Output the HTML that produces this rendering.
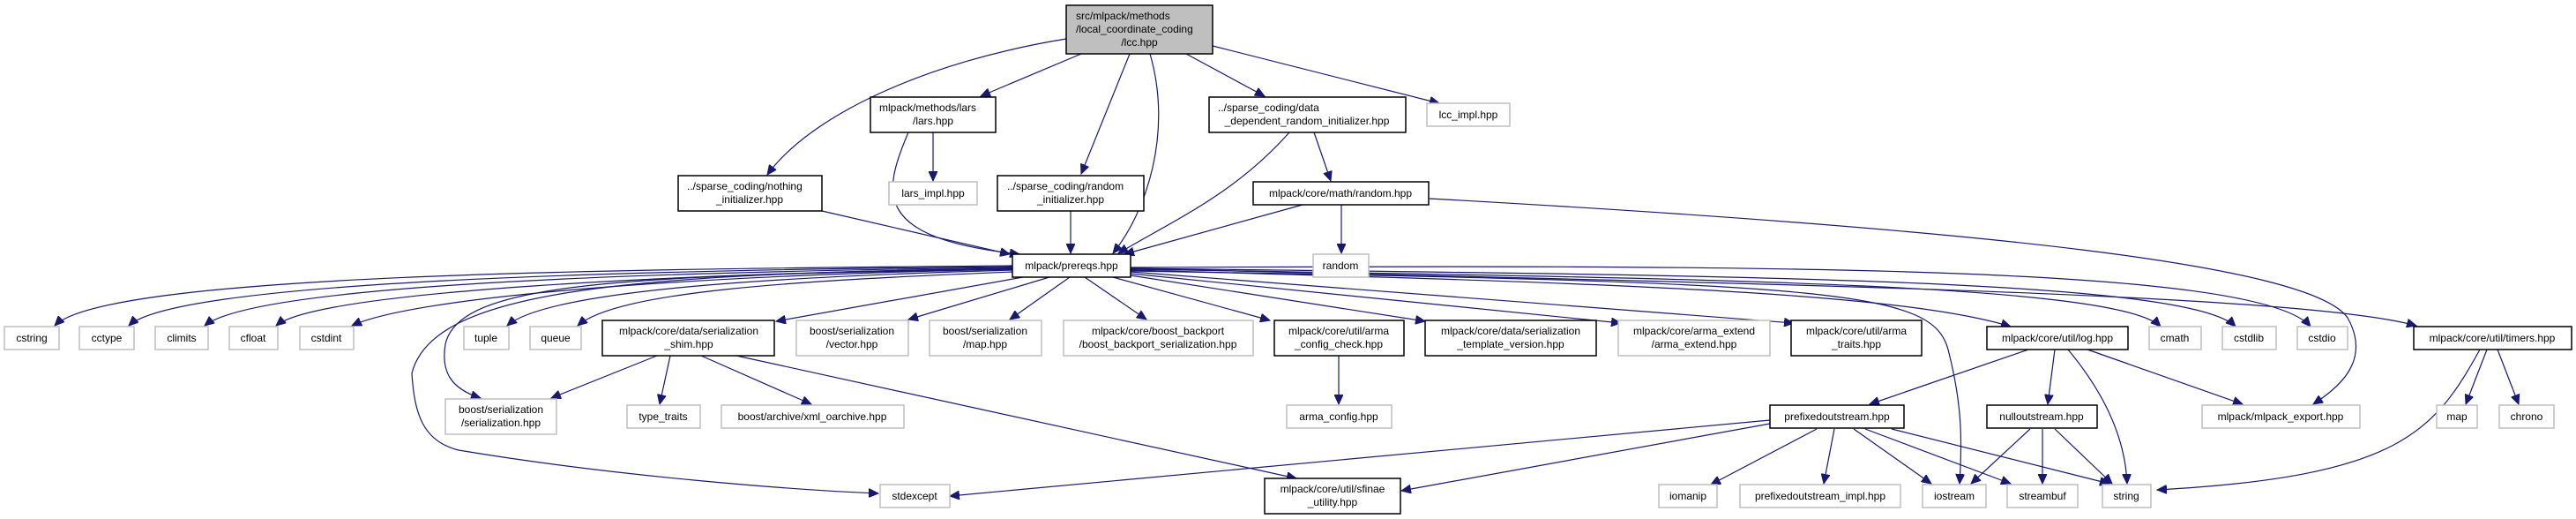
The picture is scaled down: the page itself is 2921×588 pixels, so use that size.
<!DOCTYPE html>
<html><head><meta charset="utf-8"><style>
html,body{margin:0;padding:0;background:#fff;}
svg{display:block;}
text{font-family:"Liberation Sans",Arial,sans-serif;font-size:12px;fill:#000;}
.g{fill:#fff;stroke:#bfbfbf;stroke-width:1.5;}
.b{fill:#fff;stroke:#000;stroke-width:1.5;}
.e{fill:none;stroke:#191970;stroke-width:1.2;}
</style></head><body>
<svg width="2921" height="588" viewBox="0 0 2921 588" xmlns="http://www.w3.org/2000/svg">
<defs>
<marker id="a" markerWidth="12" markerHeight="10" refX="11" refY="5" orient="auto" markerUnits="userSpaceOnUse">
<path d="M0,0 L11,5 L0,10 z" fill="#191970" stroke="#191970"/>
</marker>
</defs>
<g class="e" marker-end="url(#a)">
<path d="M1209,44 C1050,70 920,130 870,198"/>
<path d="M1226,61 L1112,109"/>
<path d="M1281,61 L1226,197"/>
<path d="M1304,61 C1330,150 1300,240 1262,287"/>
<path d="M1345,61 L1434,109"/>
<path d="M1375,52 L1632,117"/>
<path d="M1058,150 L1058,205"/>
<path d="M1030,150 C1000,220 990,270 1156,288"/>
<path d="M1490,150 L1509,205"/>
<path d="M1462,150 C1400,220 1330,250 1268,287"/>
<path d="M932,239 L1145,288"/>
<path d="M1214,239 L1214,287"/>
<path d="M1477,232 L1275,288"/>
<path d="M1521,232 L1521,287"/>
<path d="M1621,225 C2250,260 2620,300 2662,360 C2690,410 2650,440 2623,458"/>
<path d="M1149,301 C700,305 120,310 62,369"/>
<path d="M1149,302 C720,306 200,318 146,369"/>
<path d="M1149,303 C740,308 290,322 232,369"/>
<path d="M1149,304 C760,310 360,330 313,369"/>
<path d="M1149,305 C780,312 470,336 399,369"/>
<path d="M1149,306 C860,314 620,330 575,369"/>
<path d="M1149,308 C900,318 700,330 655,369"/>
<path d="M1149,305 C700,312 520,320 505,390 C500,420 510,440 545,451"/>
<path d="M1149,304 C700,310 490,330 467,423 C470,470 480,500 520,510 C700,540 900,555 996,559"/>
<path d="M1160,314 L880,364"/>
<path d="M1190,314 L1030,362"/>
<path d="M1213,314 L1145,362"/>
<path d="M1230,314 L1300,362"/>
<path d="M1262,314 L1440,363"/>
<path d="M1282,312 L1616,364"/>
<path d="M1282,310 L1838,366"/>
<path d="M1282,308 L2034,366"/>
<path d="M1282,306 C1800,320 2150,330 2280,370"/>
<path d="M1282,305 C1900,315 2400,320 2450,370"/>
<path d="M1282,304 C1950,312 2480,315 2535,370"/>
<path d="M1282,303 C2000,300 2560,300 2620,370"/>
<path d="M1282,304 C1900,320 2600,330 2740,369"/>
<path d="M1282,307 C2100,320 2195,330 2210,400 C2225,460 2225,500 2222,548"/>
<path d="M745,403 L625,451"/>
<path d="M760,403 L748,458"/>
<path d="M795,403 L920,458"/>
<path d="M835,403 L1470,542"/>
<path d="M1518,403 L1518,458"/>
<path d="M2300,396 L2120,458"/>
<path d="M2330,396 L2322,458"/>
<path d="M2345,396 C2390,450 2410,500 2412,548"/>
<path d="M2367,396 L2543,458"/>
<path d="M2812,396 C2760,490 2720,540 2446,555"/>
<path d="M2820,396 L2796,458"/>
<path d="M2832,396 L2856,458"/>
<path d="M2007,476 L1077,562"/>
<path d="M2007,480 L1589,556"/>
<path d="M2060,486 L1940,549"/>
<path d="M2080,486 L2068,548"/>
<path d="M2102,486 L2190,548"/>
<path d="M2115,486 L2280,548"/>
<path d="M2145,486 L2392,548"/>
<path d="M2302,486 L2235,548"/>
<path d="M2316,486 L2316,548"/>
<path d="M2330,486 L2395,548"/>
</g>
<rect x="1209" y="6" width="166" height="55" fill="#bfbfbf" stroke="#000" stroke-width="1.5"/>
<text x="1220" y="22">src/mlpack/methods</text>
<text x="1220" y="37">/local_coordinate_coding</text>
<text x="1292" y="52" text-anchor="middle">/lcc.hpp</text>

<rect class="b" x="987" y="110" width="142" height="40"/>
<text x="997" y="126">mlpack/methods/lars</text>
<text x="1058" y="141" text-anchor="middle">/lars.hpp</text>

<rect class="b" x="1371" y="110" width="223" height="40"/>
<text x="1381" y="126">../sparse_coding/data</text>
<text x="1482" y="141" text-anchor="middle">_dependent_random_initializer.hpp</text>

<rect class="g" x="1618" y="117" width="94" height="26"/><text x="1665" y="134" text-anchor="middle">lcc_impl.hpp</text>

<rect class="b" x="769" y="199" width="163" height="40"/>
<text x="779" y="215">../sparse_coding/nothing</text>
<text x="850" y="230" text-anchor="middle">_initializer.hpp</text>

<rect class="g" x="1008" y="206" width="100" height="26"/><text x="1058" y="223" text-anchor="middle">lars_impl.hpp</text>

<rect class="b" x="1131" y="199" width="166" height="40"/>
<text x="1142" y="215">../sparse_coding/random</text>
<text x="1214" y="230" text-anchor="middle">_initializer.hpp</text>

<rect class="b" x="1421" y="206" width="199" height="26"/><text x="1520" y="223" text-anchor="middle">mlpack/core/math/random.hpp</text>

<rect class="b" x="1148" y="288" width="134" height="26"/><text x="1215" y="305" text-anchor="middle">mlpack/prereqs.hpp</text>
<rect class="g" x="1489" y="288" width="63" height="26"/><text x="1520" y="305" text-anchor="middle">random</text>

<rect class="g" x="5" y="370" width="62" height="26"/><text x="36" y="387" text-anchor="middle">cstring</text>
<rect class="g" x="90" y="370" width="62" height="26"/><text x="121" y="387" text-anchor="middle">cctype</text>
<rect class="g" x="176" y="370" width="60" height="26"/><text x="206" y="387" text-anchor="middle">climits</text>
<rect class="g" x="260" y="370" width="55" height="26"/><text x="287" y="387" text-anchor="middle">cfloat</text>
<rect class="g" x="340" y="370" width="61" height="26"/><text x="370" y="387" text-anchor="middle">cstdint</text>
<rect class="g" x="526" y="370" width="51" height="26"/><text x="551" y="387" text-anchor="middle">tuple</text>
<rect class="g" x="601" y="370" width="58" height="26"/><text x="630" y="387" text-anchor="middle">queue</text>

<rect class="b" x="683" y="363" width="195" height="40"/>
<text x="781" y="379" text-anchor="middle">mlpack/core/data/serialization</text>
<text x="781" y="394" text-anchor="middle">_shim.hpp</text>
<rect class="g" x="903" y="363" width="127" height="40"/>
<text x="966" y="379" text-anchor="middle">boost/serialization</text>
<text x="966" y="394" text-anchor="middle">/vector.hpp</text>
<rect class="g" x="1054" y="363" width="127" height="40"/>
<text x="1117" y="379" text-anchor="middle">boost/serialization</text>
<text x="1117" y="394" text-anchor="middle">/map.hpp</text>
<rect class="g" x="1206" y="363" width="215" height="40"/>
<text x="1313" y="379" text-anchor="middle">mlpack/core/boost_backport</text>
<text x="1313" y="394" text-anchor="middle">/boost_backport_serialization.hpp</text>
<rect class="b" x="1445" y="363" width="147" height="40"/>
<text x="1518" y="379" text-anchor="middle">mlpack/core/util/arma</text>
<text x="1518" y="394" text-anchor="middle">_config_check.hpp</text>
<rect class="b" x="1616" y="363" width="194" height="40"/>
<text x="1713" y="379" text-anchor="middle">mlpack/core/data/serialization</text>
<text x="1713" y="394" text-anchor="middle">_template_version.hpp</text>
<rect class="g" x="1835" y="363" width="172" height="40"/>
<text x="1921" y="379" text-anchor="middle">mlpack/core/arma_extend</text>
<text x="1921" y="394" text-anchor="middle">/arma_extend.hpp</text>
<rect class="b" x="2031" y="363" width="148" height="40"/>
<text x="2105" y="379" text-anchor="middle">mlpack/core/util/arma</text>
<text x="2105" y="394" text-anchor="middle">_traits.hpp</text>
<rect class="b" x="2253" y="370" width="160" height="26"/><text x="2333" y="387" text-anchor="middle">mlpack/core/util/log.hpp</text>
<rect class="g" x="2437" y="370" width="59" height="26"/><text x="2466" y="387" text-anchor="middle">cmath</text>
<rect class="g" x="2520" y="370" width="61" height="26"/><text x="2550" y="387" text-anchor="middle">cstdlib</text>
<rect class="g" x="2605" y="370" width="57" height="26"/><text x="2633" y="387" text-anchor="middle">cstdio</text>
<rect class="b" x="2737" y="370" width="179" height="26"/><text x="2826" y="387" text-anchor="middle">mlpack/core/util/timers.hpp</text>

<rect class="g" x="505" y="452" width="126" height="40"/>
<text x="568" y="468" text-anchor="middle">boost/serialization</text>
<text x="568" y="483" text-anchor="middle">/serialization.hpp</text>
<rect class="g" x="711" y="459" width="83" height="26"/><text x="752" y="476" text-anchor="middle">type_traits</text>
<rect class="g" x="818" y="459" width="207" height="26"/><text x="921" y="476" text-anchor="middle">boost/archive/xml_oarchive.hpp</text>
<rect class="g" x="1459" y="459" width="119" height="26"/><text x="1518" y="476" text-anchor="middle">arma_config.hpp</text>
<rect class="b" x="2007" y="459" width="152" height="26"/><text x="2083" y="476" text-anchor="middle">prefixedoutstream.hpp</text>
<rect class="b" x="2253" y="459" width="125" height="26"/><text x="2315" y="476" text-anchor="middle">nulloutstream.hpp</text>
<rect class="g" x="2497" y="459" width="179" height="26"/><text x="2586" y="476" text-anchor="middle">mlpack/mlpack_export.hpp</text>
<rect class="g" x="2763" y="459" width="46" height="26"/><text x="2786" y="476" text-anchor="middle">map</text>
<rect class="g" x="2834" y="459" width="62" height="26"/><text x="2865" y="476" text-anchor="middle">chrono</text>

<rect class="g" x="998" y="549" width="79" height="26"/><text x="1037" y="566" text-anchor="middle">stdexcept</text>
<rect class="b" x="1434" y="542" width="154" height="40"/>
<text x="1511" y="558" text-anchor="middle">mlpack/core/util/sfinae</text>
<text x="1511" y="573" text-anchor="middle">_utility.hpp</text>
<rect class="g" x="1881" y="549" width="66" height="26"/><text x="1914" y="566" text-anchor="middle">iomanip</text>
<rect class="g" x="1973" y="549" width="182" height="26"/><text x="2064" y="566" text-anchor="middle">prefixedoutstream_impl.hpp</text>
<rect class="g" x="2180" y="549" width="72" height="26"/><text x="2216" y="566" text-anchor="middle">iostream</text>
<rect class="g" x="2276" y="549" width="80" height="26"/><text x="2316" y="566" text-anchor="middle">streambuf</text>
<rect class="g" x="2384" y="549" width="55" height="26"/><text x="2411" y="566" text-anchor="middle">string</text>
</svg>
</body></html>
